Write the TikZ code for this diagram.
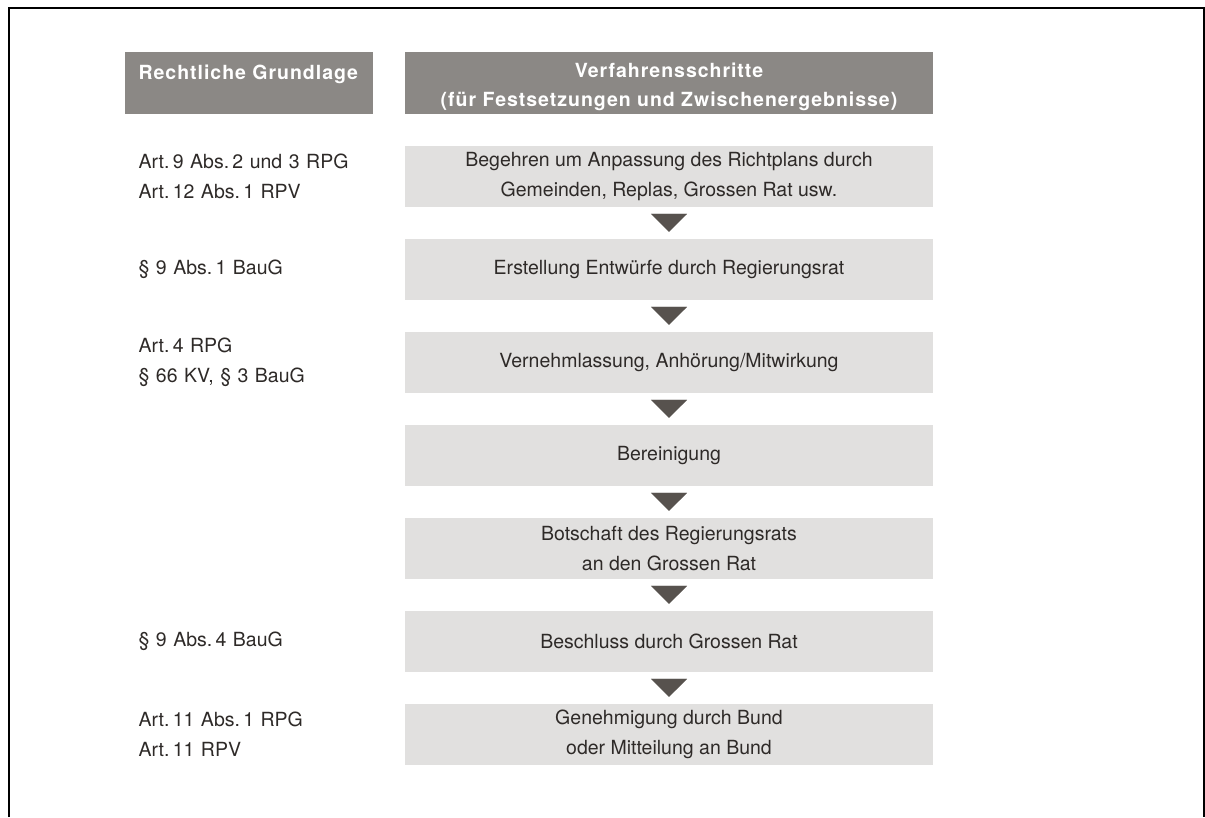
\documentclass[tikz,border=0pt]{standalone}
\usepackage{fontspec}
\setmainfont{TeX Gyre Heros}
\usepackage{tikz}
\usetikzlibrary{positioning,arrows.meta,calc}
\usepackage{xcolor}
\definecolor{headgray}{HTML}{8B8885}
\definecolor{stepgray}{HTML}{E1E0DF}
\definecolor{trigray}{HTML}{57524E}
\definecolor{txtgray}{HTML}{2E2A28}
\newcommand\headstrut{\rule{0pt}{22pt}}
\tikzset{
  headbox/.style={fill=headgray,text=white,font=\fontsize{19.5}{29}\selectfont\bfseries\addfontfeatures{LetterSpace=5},minimum height=62pt,inner sep=0pt,align=center},
  stepbox/.style={fill=stepgray,text=txtgray,font=\fontsize{19.5}{30}\selectfont,minimum width=528pt,minimum height=61pt,inner sep=0pt,align=center},
  lawtext/.style={text=txtgray,font=\fontsize{19.5}{30}\selectfont,text width=246pt,inner sep=0pt,align=left},
  steparrow/.style={draw=trigray,line width=0.1pt,shorten <=7pt,shorten >=7pt,-{Triangle[width=36pt,length=18pt,fill=trigray]}},
}

\begin{document}
\begin{tikzpicture}[
x=1pt,y=-1pt,
node distance=93pt
]
\useasboundingbox (0,0) rectangle (1205,817);
\draw[line width=1.5pt] (9,817) -- (9,8) -- (1204,8) -- (1204,817);

\node[headbox,minimum width=528pt] (h2) at (669,83) {\headstrut Verfahrensschritte\\(für Festsetzungen und Zwischenergebnisse)};
\node[headbox,minimum width=248pt,text width=220pt,align=left,left=32pt of h2] (h1) {\headstrut Rechtliche Grundlage\\\mbox{}};

\node[stepbox] (s1) at (669,176.5) {Begehren um Anpassung des Richtplans durch\\Gemeinden, Replas, Grossen Rat usw.};
\node[stepbox,below of=s1] (s2) {Erstellung Entwürfe durch Regierungsrat};
\node[stepbox,below of=s2] (s3) {Vernehmlassung, Anhörung/Mitwirkung};
\node[stepbox,below of=s3] (s4) {Bereinigung};
\node[stepbox,below of=s4] (s5) {Botschaft des Regierungsrats\\an den Grossen Rat};
\node[stepbox,below of=s5] (s6) {Beschluss durch Grossen Rat};
\node[stepbox,below of=s6] (s7) {Genehmigung durch Bund\\oder Mitteilung an Bund};

\node[lawtext,left=20pt of s1] (l1) {Art.\,9 Abs.\,2 und 3 RPG\\Art.\,12 Abs.\,1 RPV};
\node[lawtext,left=20pt of s2] (l2) {§ 9 Abs.\,1 BauG};
\node[lawtext,left=20pt of s3] (l3) {Art.\,4 RPG\\§ 66 KV, § 3 BauG};
\node[lawtext,left=20pt of s6] (l6) {§ 9 Abs.\,4 BauG};
\node[lawtext,left=20pt of s7] (l7) {Art.\,11 Abs.\,1 RPG\\Art.\,11 RPV};

\path
(s1) edge[steparrow] (s2)
(s2) edge[steparrow] (s3)
(s3) edge[steparrow] (s4)
(s4) edge[steparrow] (s5)
(s5) edge[steparrow] (s6)
(s6) edge[steparrow] (s7);
\end{tikzpicture}
\end{document}
